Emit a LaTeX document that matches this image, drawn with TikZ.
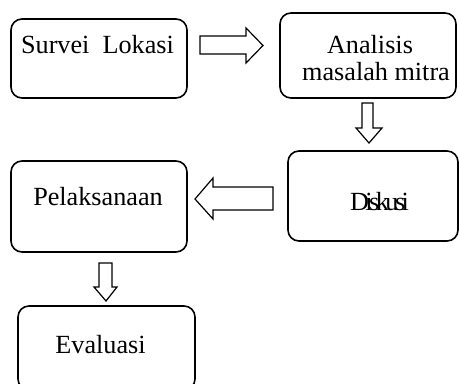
\documentclass[tikz,border=0pt]{standalone}
\usepackage{fontspec}
\setmainfont{Liberation Serif}
\begin{document}
\begin{tikzpicture}[x=1pt,y=-1pt,
  box/.style={draw,line width=1.6pt,rounded corners=11pt},
  blk/.style={draw,line width=1.2pt,fill=white,line join=miter},
  lbl/.style={anchor=base,inner sep=0pt,font=\fontsize{26.2}{28}\selectfont}]
\useasboundingbox (0,0) rectangle (460,383);
% boxes
\draw[box] (11,19) rectangle (187,98);
\draw[box] (280,13) rectangle (456,98);
\draw[box] (288,151) rectangle (458,241);
\draw[box] (11,161) rectangle (187,252);
\draw[box] (18,306) rectangle (195,390);
% labels
\node[lbl] (t1) at (97.5,53) {Survei\ \ Lokasi};
\node[lbl] (t2a) at (370,53) {Analisis};
\node[lbl] (t2b) at (376,80) {masalah mitra};
\node[lbl] (t3) at (379.5,210) {\addfontfeatures{LetterSpace=-13.5}Diskusi};
\node[lbl] (t4) at (98,205) {Pelaksanaan};
\node[lbl] (t5) at (100.5,353) {Evaluasi};
% block arrows
\draw[blk] (200,36) -- (246,36) -- (246,28) -- (263,45.5) -- (246,63) -- (246,54) -- (200,54) -- cycle;
\draw[blk] (362,103) -- (373,103) -- (373,128) -- (382,128) -- (369,143) -- (356,128) -- (362,128) -- cycle;
\draw[blk] (273,187) -- (213,187) -- (213,178) -- (195,199) -- (213,219) -- (213,210) -- (273,210) -- cycle;
\draw[blk] (99,263) -- (112,263) -- (112,287) -- (117,287) -- (106,301) -- (94,287) -- (99,287) -- cycle;
\end{tikzpicture}
\end{document}
